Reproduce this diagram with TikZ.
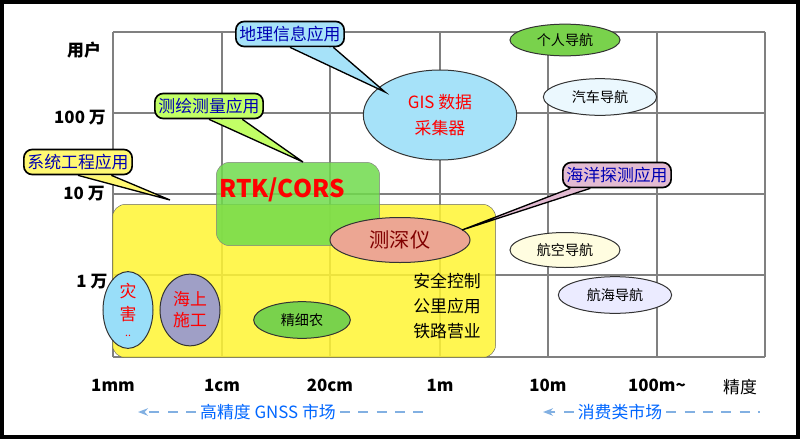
\documentclass[tikz,border=0pt]{standalone}
\usepackage{fontspec}
\setmainfont{Noto Sans CJK SC}
\usetikzlibrary{shapes.geometric, arrows.meta}
\begin{document}
\begin{tikzpicture}[x=0.03cm, y=-0.03cm]
		\tikzstyle{blob} = [ellipse, draw=black!80, line width = 0.3mm, inner sep = 0pt, font=\large]
		\tikzstyle{tag} = [rectangle, rounded corners = 2.5mm, draw=black, line width = 0.5mm, text=blue!70!black, font=\Large, inner sep = 3pt, minimum height = 7.5mm]
		\tikzstyle{axis} = [font=\bfseries\Large]
		\useasboundingbox (0,0) rectangle (800,441);
		\draw[line width = 1mm] (2,2) rectangle (798,437);
		% grid
		\foreach \x in {113, 222, 330, 440, 548, 657, 765}
			\draw[gray, line width = 0.4mm] (\x,32) -- (\x,357);
		\foreach \y in {32, 113, 194, 275, 357}
			\draw[gray, line width = 0.4mm] (113,\y) -- (765,\y);
		
		\node[axis] at (84,50) (users) {用户};
		\node[axis] at (80,118) (m100) {100 万};
		\node[axis] at (84,194) (m10) {10 万};
		\node[axis] at (92,282) (m1) {1 万};
		\node[axis] at (113,385) (xa) {1mm};
		\node[axis] at (222,385) (xb) {1cm};
		\node[axis] at (330,385) (xc) {20cm};
		\node[axis] at (440,385) (xd) {1m};
		\node[axis] at (548,385) (xe) {10m};
		\node[axis] at (657,385) (xf) {100m\textasciitilde};
		\node[font=\Large] at (740,387) (prec) {精度};
		
		\node[rectangle, rounded corners = 4mm, draw=black!60, fill=yellow!80, fill opacity = 0.85, minimum width = 11.5cm, minimum height = 4.6cm] at (304,281) (high) {};
		\node[rectangle, rounded corners = 4mm, draw=black!50, fill=green!60!olive!70, fill opacity = 0.85, minimum width = 4.9cm, minimum height = 2.5cm] at (298,204) (rtk) {};
		\node[text=red, font=\bfseries\huge] at (282,190) (rtklabel) {RTK/CORS};
		\node[blob, fill=brown!60!red!50, minimum width = 4.2cm, minimum height = 1.35cm, font=\LARGE, text=red!50!black] at (400,240) (sonar) {测深仪};
		\node[blob, fill=cyan!35, minimum width = 4.6cm, minimum height = 2.7cm, text=red, font=\Large, align=center] at (440,115) (gis) {GIS 数据\\[4pt]采集器};
		\node[blob, fill=green!50!olive!70, minimum width = 3.3cm, minimum height = 0.95cm] at (565,40) (personal) {个人导航};
		\node[blob, fill=cyan!8, minimum width = 3.4cm, minimum height = 1.1cm] at (600,97) (car) {汽车导航};
		\node[blob, fill=yellow!12, minimum width = 3.3cm, minimum height = 1.05cm] at (565,250) (air) {航空导航};
		\node[blob, fill=blue!8, minimum width = 3.4cm, minimum height = 1.1cm] at (615,295) (sea) {航海导航};
		\node[blob, fill=cyan!40, minimum width = 1.5cm, minimum height = 2.15cm, text=red, font=\Large, align=center] at (128,310) (disaster) {灾\\[2pt]害\\[-4pt]{\small ..}};
		\node[blob, fill=blue!25!gray!60, minimum width = 1.8cm, minimum height = 2.15cm, text=red, font=\Large, align=center] at (190,310) (marine) {海上\\施工};
		\node[blob, fill=green!50!olive!70, minimum width = 2.9cm, minimum height = 1.1cm] at (302,320) (farm) {精细农};
		\node[font=\Large, align=center] at (447,306) (misc) {安全控制\\[3pt]公里应用\\[3pt]铁路营业};
		
		% callouts
		\node[tag, fill=cyan!35] at (290,34) (geo) {地理信息应用};
		\coordinate (geotip) at (385,92);
		\node[tag, fill=green!40!yellow!60] at (209,106) (survey) {测绘测量应用};
		\coordinate (surveytip) at (303,162);
		\node[tag, fill=yellow!55] at (78,162) (system) {系统工程应用};
		\coordinate (systemtip) at (170,200);
		\node[tag, fill=magenta!25!violet!30] at (617,175) (ocean) {海洋探测应用};
		\coordinate (oceantip) at (462,230);
		\fill[cyan!35, draw=black, line width = 0.4mm] ([xshift=0mm]geo.south) -- (geotip) -- ([xshift=13mm]geo.south);
		\fill[green!40!yellow!60, draw=black, line width = 0.4mm] ([xshift=0mm]survey.south) -- (surveytip) -- ([xshift=10mm]survey.south);
		\fill[yellow!55, draw=black, line width = 0.4mm] ([xshift=0mm]system.south) -- (systemtip) -- ([xshift=10mm]system.south);
		\fill[magenta!25!violet!30, draw=black, line width = 0.4mm] ([xshift=-14mm]ocean.south) -- (oceantip) -- ([xshift=-8mm]ocean.south);
		
		% markets
		\node[text=blue!60!cyan, font=\Large] at (268,412) (hi) {高精度 GNSS 市场};
		\node[text=blue!60!cyan, font=\Large] at (620,412) (consumer) {消费类市场};
		\coordinate (hiL) at (138,412);
		\coordinate (hiR) at (430,412);
		\coordinate (coL) at (543,412);
		\coordinate (coR) at (760,412);
		\draw[-{Stealth[length=3mm]}, dashed, dash pattern = on 3mm off 2.5mm, cyan!60!blue!50, line width = 0.6mm] (hi.west) -- (hiL);
		\draw[dashed, dash pattern = on 3mm off 2.5mm, cyan!60!blue!50, line width = 0.6mm] (hi.east) -- (hiR);
		\draw[-{Stealth[length=3mm]}, dashed, dash pattern = on 3mm off 2.5mm, cyan!60!blue!50, line width = 0.6mm] (consumer.west) -- (coL);
		\draw[dashed, dash pattern = on 3mm off 2.5mm, cyan!60!blue!50, line width = 0.6mm] (consumer.east) -- (coR);
\end{tikzpicture}
\end{document}
